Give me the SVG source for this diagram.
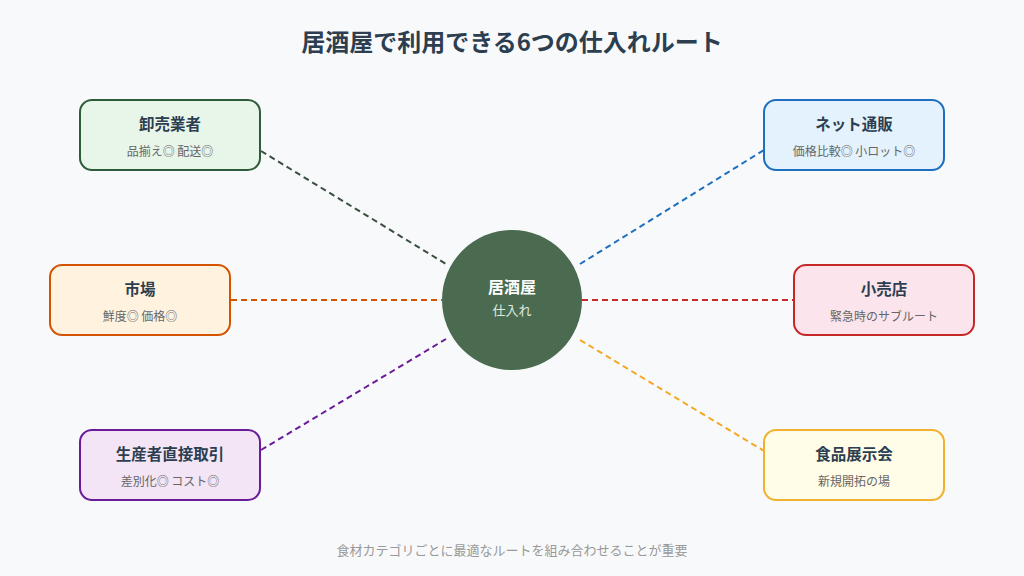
<svg xmlns="http://www.w3.org/2000/svg" width="1024" height="576" viewBox="0 0 1024 576">
<style>
text{font-family:"Noto Sans CJK JP","Noto Sans",sans-serif;text-anchor:middle}
.t{font-size:15.5px;font-weight:700;fill:#2c3e50}
.s{font-size:12px;fill:#666}
.c line{stroke-width:2;stroke-dasharray:6 4;fill:none}
.n rect{stroke-width:2}
</style>
<rect width="1024" height="576" fill="#f8f9fa"/>
<text x="512" y="51" style="font-size:24px;font-weight:700;fill:#2c3e50">居酒屋で利用できる6つの仕入れルート</text>
<g class="c" id="connectors">
<line x1="261" y1="151" x2="446" y2="264" stroke="#3b4f40"/>
<line x1="231" y1="300" x2="442" y2="300" stroke="#d35400"/>
<line x1="261" y1="450" x2="446" y2="339" stroke="#6a1b9a"/>
<line x1="580" y1="264" x2="764" y2="150" stroke="#1e6fbf"/>
<line x1="582" y1="300" x2="794" y2="300" stroke="#c62828"/>
<line x1="580" y1="340" x2="764" y2="451" stroke="#f5a623"/>
</g>
<g id="center">
<circle cx="512" cy="300" r="70" fill="#4a6b50"/>
<text x="512" y="293" style="font-size:16px;font-weight:700;fill:#fff">居酒屋</text>
<text x="512" y="315" style="font-size:13px;fill:#e0ebe0">仕入れ</text>
</g>
<g class="n" id="wholesale">
<rect x="80" y="100" width="180" height="70" rx="12" fill="#e8f5e9" stroke="#2e5b3a"/>
<text class="t" x="170" y="130">卸売業者</text>
<text class="s" x="170" y="156">品揃え◎ 配送◎</text>
</g>
<g class="n" id="online">
<rect x="764" y="100" width="180" height="70" rx="12" fill="#e3f2fd" stroke="#1e6fbf"/>
<text class="t" x="854" y="130">ネット通販</text>
<text class="s" x="854" y="156">価格比較◎ 小ロット◎</text>
</g>
<g class="n" id="market">
<rect x="50" y="265" width="180" height="70" rx="12" fill="#fff3e0" stroke="#d35400"/>
<text class="t" x="140" y="295">市場</text>
<text class="s" x="140" y="321">鮮度◎ 価格◎</text>
</g>
<g class="n" id="retail">
<rect x="794" y="265" width="180" height="70" rx="12" fill="#fce4ec" stroke="#c62828"/>
<text class="t" x="884" y="295">小売店</text>
<text class="s" x="884" y="321">緊急時のサブルート</text>
</g>
<g class="n" id="producer">
<rect x="80" y="430" width="180" height="70" rx="12" fill="#f3e5f5" stroke="#6a1b9a"/>
<text class="t" x="170" y="460">生産者直接取引</text>
<text class="s" x="170" y="486">差別化◎ コスト◎</text>
</g>
<g class="n" id="expo">
<rect x="764" y="430" width="180" height="70" rx="12" fill="#fffde7" stroke="#f0b030"/>
<text class="t" x="854" y="460">食品展示会</text>
<text class="s" x="854" y="486">新規開拓の場</text>
</g>
<text x="512" y="555" style="font-size:13px;fill:#999">食材カテゴリごとに最適なルートを組み合わせることが重要</text>
</svg>
